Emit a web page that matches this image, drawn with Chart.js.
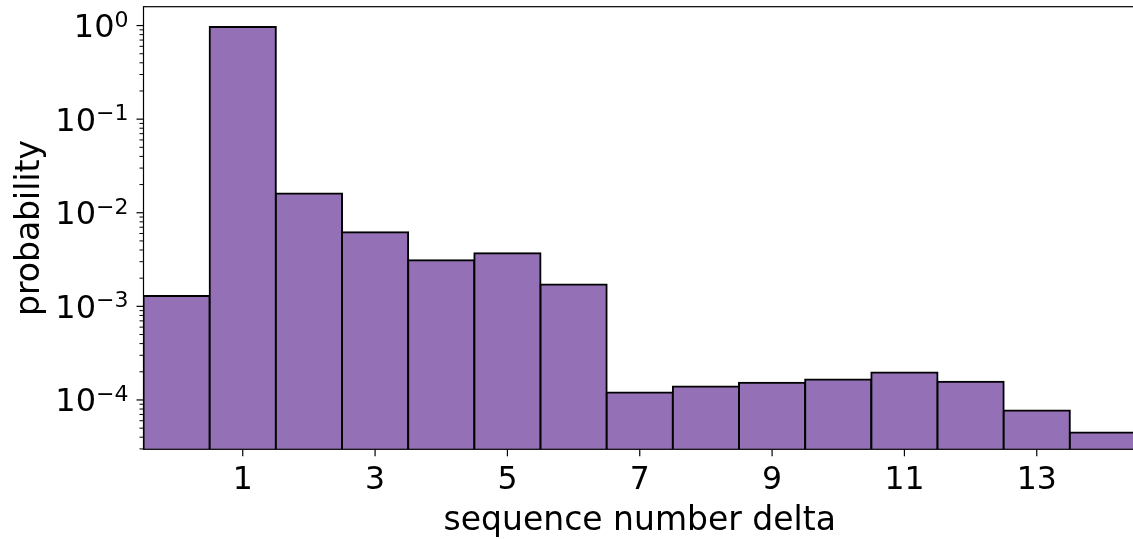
<!DOCTYPE html>
<html><head><meta charset="utf-8">
<script src="https://cdn.jsdelivr.net/npm/chart.js@4/dist/chart.umd.min.js"></script>
<style>
html,body{margin:0;padding:0;background:#fff;overflow:hidden;}
#wrap{position:relative;width:1136px;height:539px;}
</style></head><body>
<div id="wrap"><canvas id="c"></canvas></div>
<script>
// ---- data ----
const categories = ['0','1','2','3','4','5','6','7','8','9','10','11','12','13','14'];
const probability = [1.29e-3, 0.966, 0.0161, 6.2e-3, 3.11e-3, 3.69e-3, 1.71e-3, 1.20e-4, 1.39e-4, 1.53e-4, 1.65e-4, 1.96e-4, 1.56e-4, 7.7e-5, 4.5e-5];
const xTickLabels = ['1','3','5','7','9','11','13'];
const yMajorTicks = [1e-4, 1e-3, 1e-2, 1e-1, 1];
const yTickExponents = ['\u22124', '\u22123', '\u22122', '\u22121', '0'];
const yMin = 2.97e-5, yMax = 1.59;

const FONT = "'DejaVu Sans', sans-serif";

const axesPlugin = {
  id: 'mplAxes',
  afterDraw(chart) {
    const {ctx, chartArea: a, scales: {x, y}} = chart;
    ctx.save();
    ctx.strokeStyle = '#000';
    ctx.fillStyle = '#000';
    // frame
    ctx.lineWidth = 1.2;
    ctx.strokeRect(a.left, a.top, a.right - a.left, a.bottom - a.top);
    // x ticks
    ctx.lineWidth = 1.2;
    xTickLabels.forEach(l => {
      const px = x.getPixelForValue(categories.indexOf(l));
      ctx.beginPath(); ctx.moveTo(px, a.bottom); ctx.lineTo(px, a.bottom + 7); ctx.stroke();
    });
    // y ticks (major + minor)
    const e0 = Math.floor(Math.log10(yMin)), e1 = Math.ceil(Math.log10(yMax));
    for (let e = e0; e <= e1; e++) {
      for (let m = 1; m <= 9; m++) {
        const v = m * Math.pow(10, e);
        if (v < yMin || v > yMax) continue;
        const py = y.getPixelForValue(v);
        const len = m === 1 ? 7 : 4;
        ctx.lineWidth = m === 1 ? 1.2 : 1;
        ctx.beginPath(); ctx.moveTo(a.left, py); ctx.lineTo(a.left - len, py); ctx.stroke();
      }
    }
    // y tick labels 10^n
    ctx.textBaseline = 'alphabetic';
    ctx.textAlign = 'right';
    const rightX = 128.5;
    yMajorTicks.forEach((v, i) => {
      const py = y.getPixelForValue(v);
      const base = py + 11.5;
      ctx.font = '22px ' + FONT;
      const ew = ctx.measureText(yTickExponents[i]).width;
      ctx.fillText(yTickExponents[i], rightX, base - 10.5);
      ctx.font = '32px ' + FONT;
      ctx.fillText('10', rightX - ew, base);
    });
    ctx.restore();
  }
};

new Chart(document.getElementById('c'), {
  type: 'bar',
  data: {
    labels: categories,
    datasets: [{
      data: probability,
      backgroundColor: '#9471b7',
      borderColor: '#000',
      borderWidth: 2,
      inflateAmount: 1,
      barPercentage: 1,
      categoryPercentage: 1
    }]
  },
  options: {
    responsive: true,
    maintainAspectRatio: false,
    animation: false,
    events: [],
    layout: {padding: {left: 0, right: 0, top: 6.7, bottom: 0}},
    plugins: {legend: {display: false}, tooltip: {enabled: false}},
    scales: {
      x: {
        type: 'category',
        offset: true,
        grid: {display: true, drawOnChartArea: false, drawTicks: false},
        border: {display: false},
        ticks: {
          autoSkip: false, maxRotation: 0, minRotation: 0, padding: 13,
          color: '#000', font: {family: FONT, size: 31.5},
          callback: (v, i) => xTickLabels.includes(categories[i]) ? categories[i] : ''
        },
        title: {display: true, text: 'sequence number delta', color: '#000',
          font: {family: FONT, size: 33, lineHeight: 1}, padding: {top: 0, bottom: 1}},
        afterFit: s => { s.height = 539 - 449.3; }
      },
      y: {
        type: 'logarithmic',
        min: yMin, max: yMax,
        grid: {display: false},
        border: {display: false},
        ticks: {display: false},
        title: {display: true, text: 'probability', color: '#000',
          font: {family: FONT, size: 33, lineHeight: 1}, padding: {top: 14, bottom: 0}},
        afterFit: s => { s.width = 143.5; }
      }
    }
  },
  plugins: [axesPlugin]
});
</script>
</body></html>
